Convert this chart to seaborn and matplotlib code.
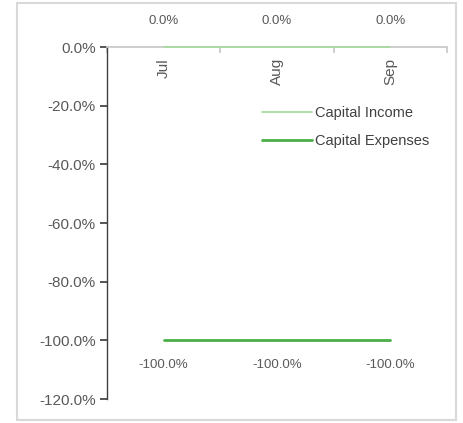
import pandas as pd
import numpy as np
import matplotlib
matplotlib.use("Agg")
import matplotlib.pyplot as plt
import matplotlib.patches as patches
from matplotlib.ticker import FuncFormatter
import seaborn as sns

# data
months = ["Jul", "Aug", "Sep"]
capital_income = [0.0, 0.0, 0.0]
capital_expenses = [-1.0, -1.0, -1.0]
series_names = ["Capital Income", "Capital Expenses"]
colores = ["#a8dba2", "#4aaf4a"]

df = pd.DataFrame({
    "pos": list(range(len(months))) * 2,
    "value": capital_income + capital_expenses,
    "serie": [series_names[0]] * len(months) + [series_names[1]] * len(months),
})

sns.set_theme(style="white")
plt.rcParams["font.family"] = ["Liberation Sans", "DejaVu Sans"]
plt.rcParams["axes.unicode_minus"] = False
gris = "#595959"


def pct(v, pos=None):
    v = round(v * 100, 1)
    if v == 0:
        v = 0.0
    return f"{v:.1f}%"


fig = plt.figure(figsize=(4.64, 4.23), dpi=100)
ax = fig.add_axes([107 / 464, 1 - 399 / 423, (447 - 107) / 464, (399 - 47) / 423])

sns.lineplot(data=df, x="pos", y="value", hue="serie", palette=colores,
             ax=ax, legend=False)
ax.lines[0].set_linewidth(1.3)
ax.lines[1].set_linewidth(2.0)
for ln in ax.lines:
    ln.set_clip_on(False)
    ln.set_zorder(5)

ax.set_xlim(-0.5, len(months) - 0.5)
ax.set_ylim(-1.2, 0)
ax.set_yticks(np.arange(-1.2, 0.01, 0.2))
ax.yaxis.set_major_formatter(FuncFormatter(pct))
ax.set_xlabel("")
ax.set_ylabel("")

# x axis at top (value 0)
ax.set_xticks(np.arange(-0.5, len(months), 1.0))
ax.tick_params(axis="x", which="both", bottom=False, top=True, labelbottom=False,
               labeltop=False, direction="in", length=4, color="#c8c8c8")
ax.tick_params(axis="y", left=True, direction="out", length=5, color="#404040",
               labelsize=11, labelcolor=gris, pad=3)
for s in ["bottom", "right"]:
    ax.spines[s].set_visible(False)
ax.spines["top"].set_color("#c8c8c8")
ax.spines["left"].set_color("#404040")
ax.spines["left"].set_linewidth(1.0)

# category labels under the axis line
for i, m in enumerate(months):
    ax.text(i, -0.038, m, rotation=90, ha="center", va="top",
            fontsize=11, color=gris)

# data labels
for i, v in enumerate(capital_income):
    ax.annotate(pct(v), (i, v), xytext=(0, 26), textcoords="offset pixels",
                ha="center", va="center", fontsize=9.5, color=gris, annotation_clip=False)
for i, v in enumerate(capital_expenses):
    ax.annotate(pct(v), (i, v), xytext=(0, -25), textcoords="offset pixels",
                ha="center", va="center", fontsize=9.5, color=gris, annotation_clip=False)

# legend
handles = [plt.Line2D([], [], color=colores[0], lw=1.3),
           plt.Line2D([], [], color=colores[1], lw=2.0)]
fig.legend(handles, series_names, loc="upper left",
           bbox_to_anchor=(262 / 464, 1 - 106 / 423), frameon=False,
           fontsize=10.5, handlelength=3.45, handletextpad=0.2, labelspacing=0.98,
           labelcolor="#404040", borderaxespad=0, borderpad=0)

# outer border
fig.patches.append(patches.Rectangle((17 / 464, 3 / 423), (456 - 17) / 464, (420 - 3) / 423,
                                     transform=fig.transFigure, fill=False,
                                     edgecolor="#d9d9d9", linewidth=1.5))

fig.savefig("out.png", dpi=100)
